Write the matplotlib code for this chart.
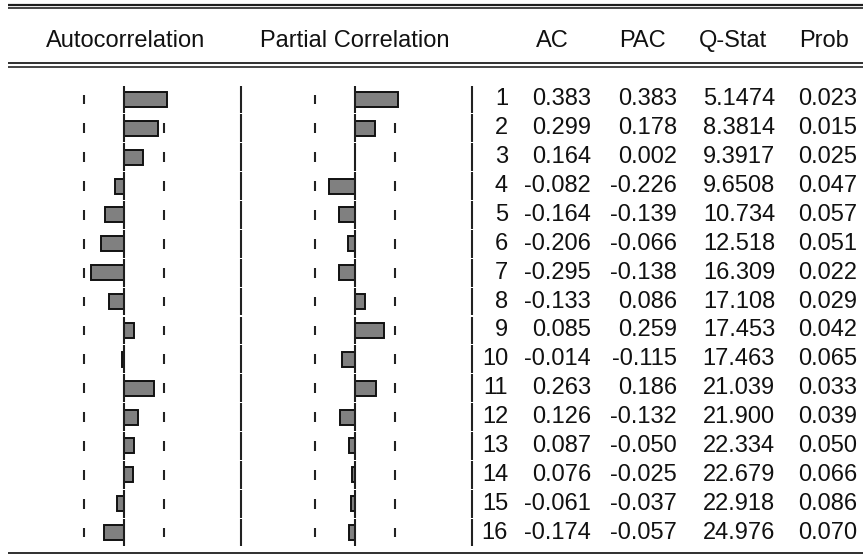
import numpy as np
import matplotlib
matplotlib.use('Agg')
import matplotlib.pyplot as plt

# correlogram values (lags 1..16)
lags = list(range(1, 17))
ac = [0.383, 0.299, 0.164, -0.082, -0.164, -0.206, -0.295, -0.133,
      0.085, -0.014, 0.263, 0.126, 0.087, 0.076, -0.061, -0.174]
pac = [0.383, 0.178, 0.002, -0.226, -0.139, -0.066, -0.138, 0.086,
       0.259, -0.115, 0.186, -0.132, -0.050, -0.025, -0.037, -0.057]
qstat = ['5.1474', '8.3814', '9.3917', '9.6508', '10.734', '12.518', '16.309', '17.108',
         '17.453', '17.463', '21.039', '21.900', '22.334', '22.679', '22.918', '24.976']
prob = ['0.023', '0.015', '0.025', '0.047', '0.057', '0.051', '0.022', '0.029',
        '0.042', '0.065', '0.033', '0.039', '0.050', '0.066', '0.086', '0.070']
headers = ['Autocorrelation', 'Partial Correlation', 'AC', 'PAC', 'Q-Stat', 'Prob']
n_obs = 32

bound = 2 / np.sqrt(n_obs)

W, H = 863, 554
plt.rcParams['font.family'] = ['Liberation Sans', 'DejaVu Sans']
fig = plt.figure(figsize=(W / 100, H / 100), dpi=100)
fig.patch.set_facecolor('white')

# rows area in pixels
row_top, row_bot = 85.0, 547.0
px_per_unit = 113.0


def add_px_axes(x0, x1, y0, y1):
    return fig.add_axes([x0 / W, 1 - y1 / H, (x1 - x0) / W, (y1 - y0) / H])


# background axes in pixel coords for rules and headers
bg = add_px_axes(0, W, 0, H)
bg.set_xlim(0, W)
bg.set_ylim(H, 0)
bg.axis('off')
for y, lw in [(4.5, 2.2), (8.3, 1.6), (63, 1.8), (67, 1.6), (552.5, 1.8)]:
    bg.plot([8, W], [y, y], color='#1e1e1e', lw=lw * 0.72, solid_capstyle='butt')

txt_kw = dict(fontsize=17, color='#111111', va='center')
head_x = [126, 355, 552, 642, 733, 824]
for hx, h in zip(head_x, headers):
    bg.text(hx, 41, h, ha='center', **txt_kw)


def bar_panel(zero_px, values):
    ax = add_px_axes(zero_px - px_per_unit, zero_px + px_per_unit, row_top, row_bot)
    ax.set_xlim(-1, 1)
    ax.set_ylim(16.5, 0.5)
    ax.axis('off')
    for b in (-bound, bound):
        ax.vlines([b] * len(lags), np.array(lags) - 0.17, np.array(lags) + 0.17,
                  color='#222222', lw=1.5, zorder=1)
    ax.barh(lags, values, height=0.52, color='#808080', edgecolor='#111111',
            lw=1.4, zorder=3)
    ax.vlines([0] * len(lags), np.array(lags) - 0.48, np.array(lags) + 0.48,
              color='#1e1e1e', lw=1.5, zorder=4)
    return ax


bar_panel(124, ac)
bar_panel(355, pac)

# table axes: x in pixels, y in lags
tb = add_px_axes(0, W, row_top, row_bot)
tb.set_xlim(0, W)
tb.set_ylim(16.5, 0.5)
tb.axis('off')
for sx in (241, 471.5):
    tb.vlines([sx] * len(lags), np.array(lags) - 0.48, np.array(lags) + 0.48,
              color='#222222', lw=1.5)
for i, lag in enumerate(lags):
    tb.text(508, lag, str(lag), ha='right', **txt_kw)
    tb.text(591, lag, f'{ac[i]:.3f}', ha='right', **txt_kw)
    tb.text(677, lag, f'{pac[i]:.3f}', ha='right', **txt_kw)
    tb.text(775, lag, qstat[i], ha='right', **txt_kw)
    tb.text(857, lag, prob[i], ha='right', **txt_kw)

fig.savefig('out.png', dpi=100)
